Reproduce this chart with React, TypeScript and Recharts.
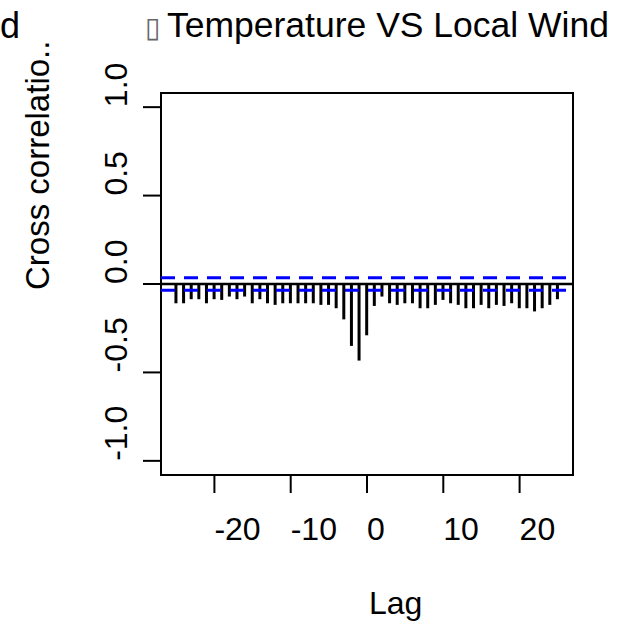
import {
  ComposedChart,
  Bar,
  XAxis,
  YAxis,
  ReferenceLine,
  ReferenceArea,
} from 'recharts';

const lags = [
  -25, -24, -23, -22, -21, -20, -19, -18, -17, -16, -15, -14, -13, -12, -11, -10, -9, -8, -7, -6, -5, -4, -3,
  -2, -1, 0, 1, 2, 3, 4, 5, 6, 7, 8, 9, 10, 11, 12, 13, 14, 15, 16, 17, 18, 19, 20, 21, 22, 23, 24, 25,
];

const ccfValues = [
  -0.109, -0.109, -0.086, -0.086, -0.109, -0.086, -0.09, -0.071, -0.086, -0.071, -0.109, -0.086, -0.109,
  -0.118, -0.109, -0.109, -0.109, -0.109, -0.109, -0.118, -0.118, -0.137, -0.2, -0.35, -0.433, -0.29,
  -0.124, -0.071, -0.109, -0.118, -0.109, -0.109, -0.137, -0.137, -0.118, -0.09, -0.109, -0.118, -0.137,
  -0.137, -0.118, -0.137, -0.118, -0.124, -0.109, -0.137, -0.137, -0.155, -0.137, -0.118, -0.086,
];

const xTicks = [-20, -10, 0, 10, 20];
const yTicks = [-1, -0.5, 0, 0.5, 1];
const ci = 0.035;

const data = lags.map((lag, i) => ({ lag, ccf: ccfValues[i] }));

const font = '"Liberation Sans", Arial, sans-serif';

function XTick(props: any) {
  const { x, y, payload } = props;
  return (
    <text x={x} y={y + 45} fontSize={32} fontFamily={font} fill="#000" textAnchor="start">
      {payload.value}
    </text>
  );
}

function YTick(props: any) {
  const { x, y, payload } = props;
  const tx = x - 14;
  return (
    <text
      x={tx}
      y={y}
      fontSize={32}
      fontFamily={font}
      fill="#000"
      textAnchor="start"
      transform={`rotate(-90, ${tx}, ${y})`}
    >
      {Number(payload.value).toFixed(1)}
    </text>
  );
}

export default function App() {
  return (
    <div
      style={{
        position: 'absolute',
        left: 0,
        top: 0,
        width: 628,
        height: 625,
        background: '#fff',
        overflow: 'hidden',
      }}
    >
      <ComposedChart
        width={628}
        height={625}
        data={data}
        margin={{ top: 93, right: 55, bottom: 90, left: 101 }}
      >
        <XAxis
          dataKey="lag"
          type="number"
          domain={[-27, 27]}
          ticks={xTicks}
          allowDataOverflow
          interval={0}
          height={60}
          tickSize={18}
          axisLine={false}
          tickLine={{ stroke: '#000', strokeWidth: 2 }}
          tick={<XTick />}
        />
        <YAxis
          type="number"
          domain={[-1.08, 1.08]}
          ticks={yTicks}
          allowDataOverflow
          interval={0}
          width={60}
          tickSize={18}
          axisLine={false}
          tickLine={{ stroke: '#000', strokeWidth: 2 }}
          tick={<YTick />}
        />
        <ReferenceArea
          x1={-27}
          x2={27}
          y1={-1.08}
          y2={1.08}
          fill="none"
          fillOpacity={0}
          stroke="#000"
          strokeWidth={2}
        />
        <ReferenceLine y={ci} stroke="#0000ff" strokeWidth={3} strokeDasharray="14 9" />
        <ReferenceLine y={-ci} stroke="#0000ff" strokeWidth={3} strokeDasharray="14 9" />
        <ReferenceLine y={0} stroke="#000" strokeWidth={2.5} />
        <Bar dataKey="ccf" fill="#000" barSize={3} isAnimationActive={false} />
      </ComposedChart>
      <svg
        width={628}
        height={625}
        style={{ position: 'absolute', left: 0, top: 0, pointerEvents: 'none' }}
      >
        <text x={0} y={38} fontSize={36} fontFamily={font} fill="#000">
          d
        </text>
        <text x={145} y={37} fontSize={28} fontFamily={font} fill="#666">
          ▯
        </text>
        <text x={167} y={37} fontSize={35.5} fontFamily={font} fill="#000">
          Temperature VS Local Wind
        </text>
        <text
          x={49}
          y={290}
          fontSize={33}
          fontFamily={font}
          fill="#000"
          textAnchor="start"
          transform="rotate(-90, 49, 290)"
        >
          Cross correlatio..
        </text>
        <text x={369} y={614} fontSize={32} fontFamily={font} fill="#000">
          Lag
        </text>
      </svg>
    </div>
  );
}
